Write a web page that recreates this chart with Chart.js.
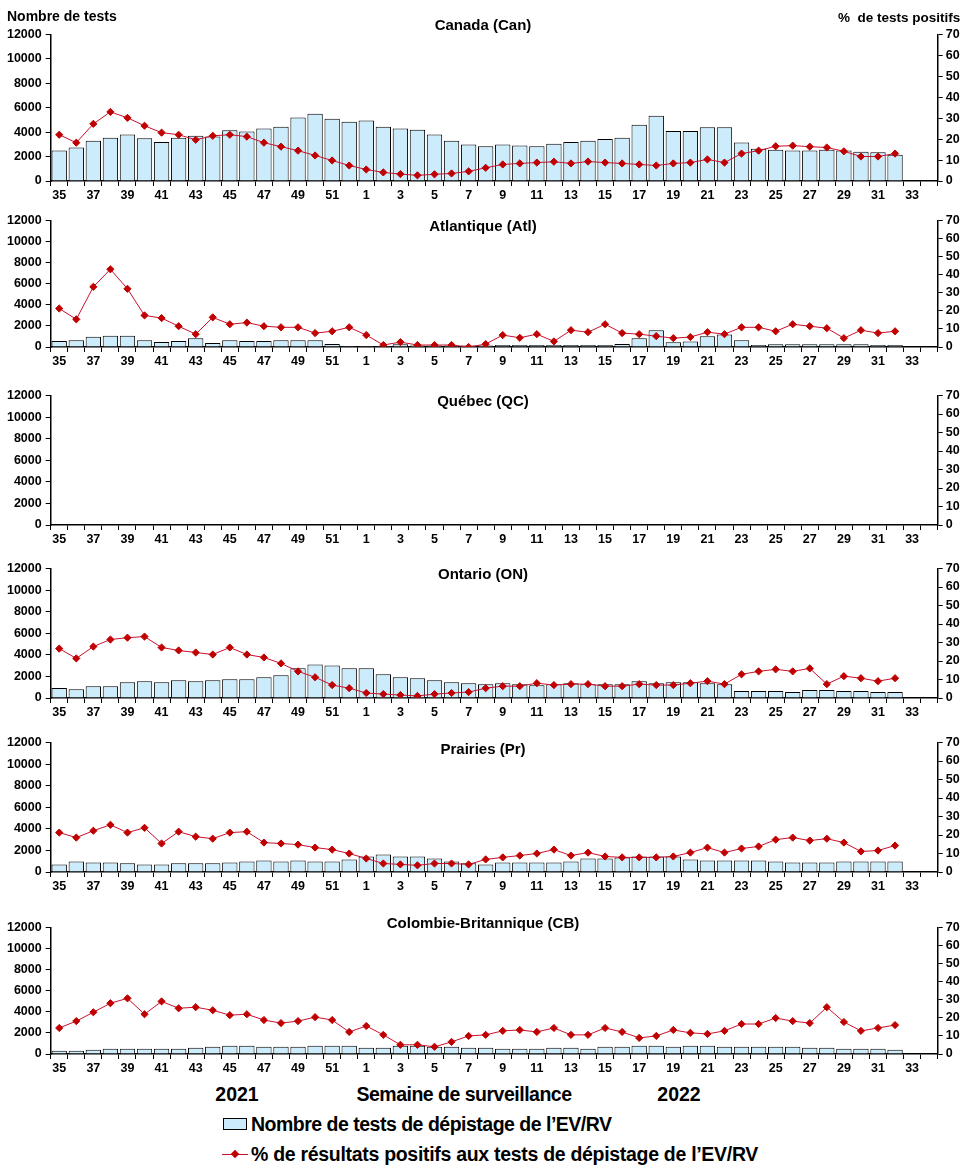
<!DOCTYPE html>
<html lang="fr">
<head>
<meta charset="utf-8">
<script src="https://cdn.jsdelivr.net/npm/chart.js@4.4.1/dist/chart.umd.min.js"></script>
<style>
  html, body { margin:0; padding:0; background:#fff; }
  body { width:967px; height:1172px; position:relative; overflow:hidden; font-family:"Liberation Sans", Arial, sans-serif; }
  .cv { position:absolute; left:0; }
  .txt { position:absolute; font-weight:bold; color:#000; white-space:nowrap; transform:translate(-50%,-50%); }
  .lt { position:absolute; font-weight:bold; color:#000; white-space:nowrap; transform:translateY(-50%); }
</style>
</head>
<body>
<script>
// ---- Data ----
const weeks = ['35','36','37','38','39','40','41','42','43','44','45','46','47','48','49','50','51','52',
  '1','2','3','4','5','6','7','8','9','10','11','12','13','14','15','16','17','18','19','20','21','22','23','24','25','26','27','28','29','30','31','32','33','34'];

const canTests = [2500,2750,3300,3550,3800,3500,3200,3550,3700,3650,4150,4050,4300,4450,5200,5500,5100,4850,
  4950,4450,4300,4200,3800,3300,3000,2850,3000,2900,2850,3050,3200,3300,3450,3550,4600,5350,4100,4100,4400,4400,3150,2650,2550,2500,2500,2550,2500,2400,2350,2150];
const canPct = [22.1,18.3,27.3,33.0,30.2,26.4,23.1,22.1,19.7,21.6,22.1,21.2,18.3,16.4,14.5,12.2,9.8,7.4,
  5.5,4.1,3.3,2.7,3.2,3.6,4.6,6.3,7.9,8.4,8.8,9.2,8.4,9.3,8.8,8.4,7.9,7.4,8.4,8.8,10.3,8.8,13.1,14.5,16.6,16.9,16.4,16.0,14.2,11.7,11.7,13.1];

const atlTests = [560,650,970,1060,1060,650,470,560,840,375,650,560,560,650,650,650,280,100,
  100,100,250,150,150,150,150,150,190,190,190,190,190,190,190,280,840,1590,440,530,1030,1190,650,190,250,250,250,250,250,250,190,190];
const atlPct = [21.3,15.3,33.3,43.0,32.2,17.5,16.0,11.5,7.1,16.4,12.6,13.5,11.5,10.9,10.9,7.7,8.7,10.9,
  6.6,1.1,2.7,1.1,1.1,1.1,0,1.6,6.6,5.1,7.1,3.1,9.3,8.2,12.6,7.7,7.1,6.0,4.9,5.5,8.2,7.1,10.9,10.9,8.7,12.6,11.5,10.4,4.9,9.3,7.7,8.7];

const qcTests = [];
const qcPct = [];

const onTests = [920,820,1100,1100,1470,1560,1470,1650,1560,1650,1740,1740,1920,2110,2750,3110,3020,2750,
  2750,2200,1920,1830,1650,1470,1370,1280,1370,1280,1190,1280,1370,1280,1280,1280,1560,1370,1470,1470,1370,1280,640,640,640,550,730,730,640,640,550,550];
const onPct = [26.7,21.4,27.8,31.6,32.6,33.2,27.3,25.7,24.6,23.5,27.3,23.5,21.9,18.7,14.4,11.2,7.0,5.3,
  2.7,2.1,1.6,1.1,2.1,2.7,3.2,5.3,6.4,6.4,8.0,7.0,7.5,7.5,6.4,6.4,7.5,7.0,7.0,8.0,9.1,7.5,12.8,14.4,15.5,14.4,16.0,7.5,11.8,10.7,9.1,10.7];

const prTests = [700,980,890,890,800,700,700,800,800,800,890,980,1070,980,1070,980,980,1160,
  1440,1620,1440,1440,1250,980,800,700,890,890,890,890,980,1250,1250,1350,1440,1440,1440,1160,1070,1070,1070,1070,980,890,890,890,980,980,980,980];
const prPct = [21.3,18.6,22.3,25.5,21.3,23.9,15.4,21.8,19.1,18.0,21.3,21.8,15.9,15.4,14.8,13.2,12.1,10.0,
  7.3,4.6,4.1,3.6,4.6,4.6,4.1,6.8,7.9,8.9,10.0,12.1,8.9,10.5,8.4,7.9,7.9,7.9,8.4,10.5,13.2,10.5,12.7,13.8,17.5,18.6,17.0,18.0,15.9,11.1,11.6,14.3];

const cbTests = [310,310,400,500,500,500,500,500,590,690,780,780,690,690,690,780,780,780,
  590,590,780,780,690,690,590,590,500,500,500,590,590,500,690,690,780,780,690,780,780,690,690,690,690,690,590,590,500,500,500,400];
const cbPct = [14.4,18.2,23.1,28.1,30.8,22.0,29.1,25.3,25.9,24.2,21.5,22.0,18.8,17.1,18.2,20.4,18.8,12.2,
  15.5,10.6,5.1,5.1,4.0,6.7,10.0,10.6,12.8,13.3,12.2,14.4,10.6,10.6,14.4,12.2,8.9,10.0,13.3,11.7,11.1,12.8,16.6,16.6,19.9,18.2,17.1,25.9,17.7,12.8,14.4,16.0];

const panelTitles = ['Canada (Can)','Atlantique (Atl)','Québec (QC)','Ontario (ON)','Prairies (Pr)','Colombie-Britannique (CB)'];
const leftTicksMax = 12000, leftStep = 2000, rightTicksMax = 70, rightStep = 10;

// ---- Layout (pixel geometry, not data) ----
const layout = [
  {top:33,    bottom:181,   titleY:24},
  {top:219.3, bottom:347.3, titleY:225},
  {top:394,   bottom:525,   titleY:400},
  {top:567.3, bottom:698.3, titleY:573},
  {top:741.3, bottom:872,   titleY:748},
  {top:925.7, bottom:1053.7,titleY:922}
];
const series = [[canTests,canPct],[atlTests,atlPct],[qcTests,qcPct],[onTests,onPct],[prTests,prPct],[cbTests,cbPct]];

function pad(arr){ return weeks.map((_,i)=> i < arr.length ? arr[i] : null); }

const tickFont = {family:'"Liberation Sans", Arial, sans-serif', weight:'bold', size:12.5};
const PADTOP = 10, XH = 22, LEFTW = 50.7, RIGHTW = 29.3, W = 967;

function addText(cls, text, x, y, size, extra){
  const d = document.createElement('div');
  d.className = cls; d.textContent = text;
  d.style.left = x + 'px'; d.style.top = y + 'px'; d.style.fontSize = size + 'px';
  if (extra) Object.assign(d.style, extra);
  document.body.appendChild(d);
  return d;
}

layout.forEach((L, p) => {
  const cv = document.createElement('canvas');
  const h = Math.round((L.bottom - L.top) + PADTOP + XH);
  cv.width = W; cv.height = h;
  cv.className = 'cv';
  cv.style.top = (L.top - PADTOP) + 'px';
  cv.style.width = W + 'px'; cv.style.height = h + 'px';
  document.body.appendChild(cv);
  const [tests, pct] = series[p];
  new Chart(cv.getContext('2d'), {
    type: 'bar',
    data: {
      labels: weeks,
      datasets: [
        { type:'line', label:'% de résultats positifs aux tests de dépistage de l’EV/RV', data: pad(pct), yAxisID:'y1',
          borderColor:'#C8102E', borderWidth:1, backgroundColor:'#C00000',
          pointStyle:'rectRot', pointRadius:3.6, pointBackgroundColor:'#C00000', pointBorderColor:'#C00000',
          tension:0, order:0, spanGaps:false },
        { type:'bar', label:'Nombre de tests de dépistage de l’EV/RV', data: pad(tests), yAxisID:'y',
          backgroundColor:'#CCECFC', borderColor:'#000', borderWidth:1,
          barPercentage:1.0, categoryPercentage:0.9, order:1 }
      ]
    },
    options: {
      responsive:false, animation:false, devicePixelRatio:1,
      layout:{ padding:{ top:PADTOP, bottom:0, left:0, right:0 } },
      plugins:{ legend:{display:false}, tooltip:{enabled:false}, title:{display:false} },
      scales:{
        x:{ offset:true,
            grid:{ offset:true, drawOnChartArea:false, drawTicks:true, tickLength:5, color:'#000', lineWidth:1 },
            border:{ color:'#000', width:1.5 },
            ticks:{ autoSkip:false, maxRotation:0, minRotation:0, color:'#000', font:tickFont, padding:2,
                    callback:(v,i)=> i%2===0 ? weeks[i] : '' },
            afterFit:(s)=>{ s.height = XH; } },
        y:{ position:'left', min:0, max:leftTicksMax,
            ticks:{ stepSize:leftStep, color:'#000', font:tickFont, padding:4, callback:(v)=> String(v) },
            grid:{ drawOnChartArea:false, drawTicks:true, tickLength:5, color:'#000' },
            border:{ color:'#000', width:1.5 },
            afterFit:(s)=>{ s.width = LEFTW; } },
        y1:{ position:'right', min:0, max:rightTicksMax,
            ticks:{ stepSize:rightStep, color:'#000', font:tickFont, padding:3, callback:(v)=> String(v) },
            grid:{ drawOnChartArea:false, drawTicks:true, tickLength:5, color:'#000' },
            border:{ color:'#000', width:1.5 },
            afterFit:(s)=>{ s.width = RIGHTW; } }
      }
    }
  });
  addText('txt', panelTitles[p], 483, L.titleY, 15);
});

// Axis titles
addText('lt', 'Nombre de tests', 7, 16, 14);
addText('lt', '%  de tests positifs', 838, 16.5, 13.5, {whiteSpace:'pre'});

// Bottom labels
addText('txt', '2021', 237, 1094, 19.5);
addText('txt', 'Semaine de surveillance', 464, 1094, 19.5, {letterSpacing:'-0.5px'});
addText('txt', '2022', 679, 1094, 19.5);

// Legend
const box = document.createElement('div');
Object.assign(box.style, {position:'absolute', left:'223px', top:'1118px', width:'24px', height:'12px',
  background:'#CCECFC', border:'1px solid #000', boxSizing:'border-box'});
document.body.appendChild(box);
const ln = document.createElement('div');
Object.assign(ln.style, {position:'absolute', left:'222px', top:'1154px', width:'26px', height:'1.2px', background:'#C8102E'});
document.body.appendChild(ln);
const dm = document.createElement('div');
Object.assign(dm.style, {position:'absolute', left:'231.5px', top:'1151px', width:'6px', height:'6px',
  background:'#C00000', transform:'rotate(45deg)'});
document.body.appendChild(dm);
addText('lt', 'Nombre de tests de dépistage de l’EV/RV', 251, 1124, 19.5, {letterSpacing:'-0.5px'});
addText('lt', '% de résultats positifs aux tests de dépistage de l’EV/RV', 251, 1154, 19.5, {letterSpacing:'-0.3px'});
</script>
</body>
</html>
